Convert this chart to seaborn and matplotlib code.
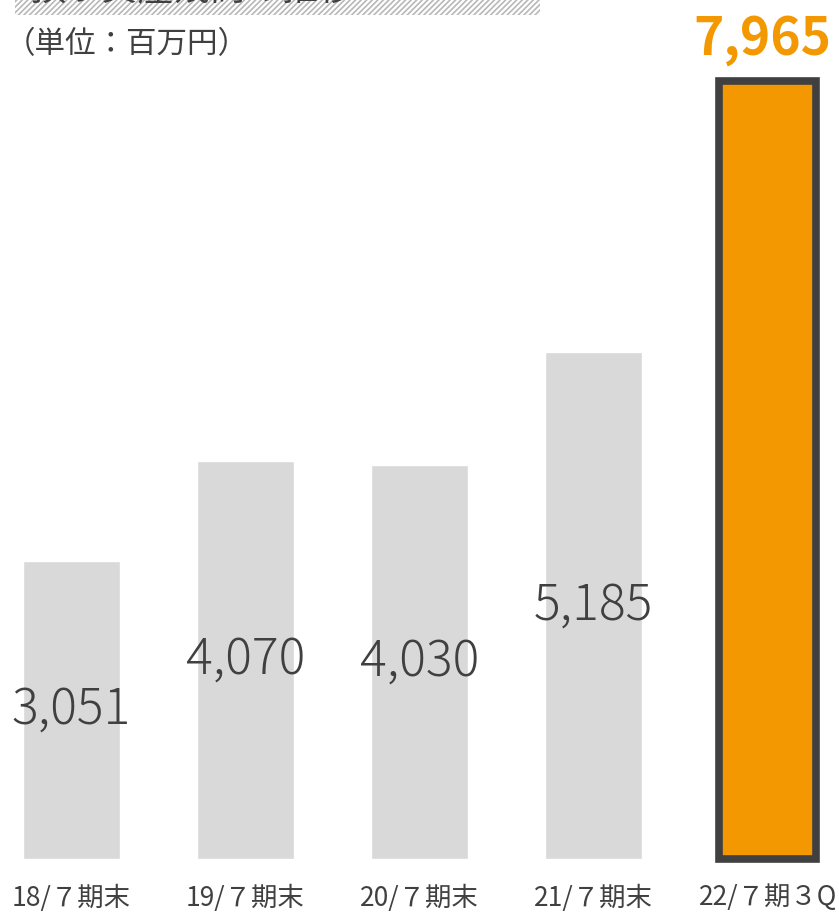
import matplotlib
matplotlib.use("Agg")
import matplotlib.pyplot as plt
import seaborn as sns
from matplotlib.patches import Rectangle

categories = ["18/７期末", "19/７期末", "20/７期末", "21/７期末", "22/７期３Q"]
values = [3051, 4070, 4030, 5185, 7965]
value_labels = ["3,051", "4,070", "4,030", "5,185", "7,965"]
colors = ["#D9D9D9", "#D9D9D9", "#D9D9D9", "#D9D9D9", "#F39800"]
title = "預り資産残高の推移"
unit = "（単位：百万円）"

sns.set_theme(style="white")
plt.rcParams["font.family"] = ["Noto Sans CJK JP", "DejaVu Sans"]
plt.rcParams["hatch.linewidth"] = 1.2

fig = plt.figure(figsize=(8.39, 9.14), dpi=100)
ax = fig.add_axes([0, 0, 1, 1])
sns.barplot(x=categories, y=values, hue=categories, palette=colors,
            legend=False, width=0.56, ax=ax, saturation=1)

px = 0.0977
ax.set_xlim(-0.41, 4.41)
ax.set_ylim(-(914 - 859) / px, 859 / px)
ax.axis("off")

last = ax.patches[-1]
last.set_edgecolor("#404040")
last.set_linewidth(5.5)

for i, (v, lab) in enumerate(zip(values, value_labels)):
    if i < len(values) - 1:
        ax.text(i, v / 2, lab, ha="center", va="center", fontsize=36,
                color="#404040", fontweight="light")
    else:
        ax.text(i + 0.365, v + 420, lab, ha="right", va="center", fontsize=37,
                color="#F39800", fontweight="bold")

for i, c in enumerate(categories):
    ax.text(i, -(898 - 859) / px, c, ha="center", va="center", fontsize=19,
            color="#404040")

# hatched title band (clipped at top)
fig.patches.append(Rectangle((15 / 839, 1 - 15 / 914), 525 / 839, 20 / 914,
                             transform=fig.transFigure, facecolor="white",
                             edgecolor="#B8B8B8", hatch="//////", linewidth=0))
fig.text(30 / 839, 1 - 8 / 914, title, ha="left", va="bottom", fontsize=26,
         color="#404040")
fig.text(5 / 839, 1 - 45 / 914, unit, ha="left", va="center", fontsize=22,
         color="#404040")

fig.savefig("out.png", dpi=100)
